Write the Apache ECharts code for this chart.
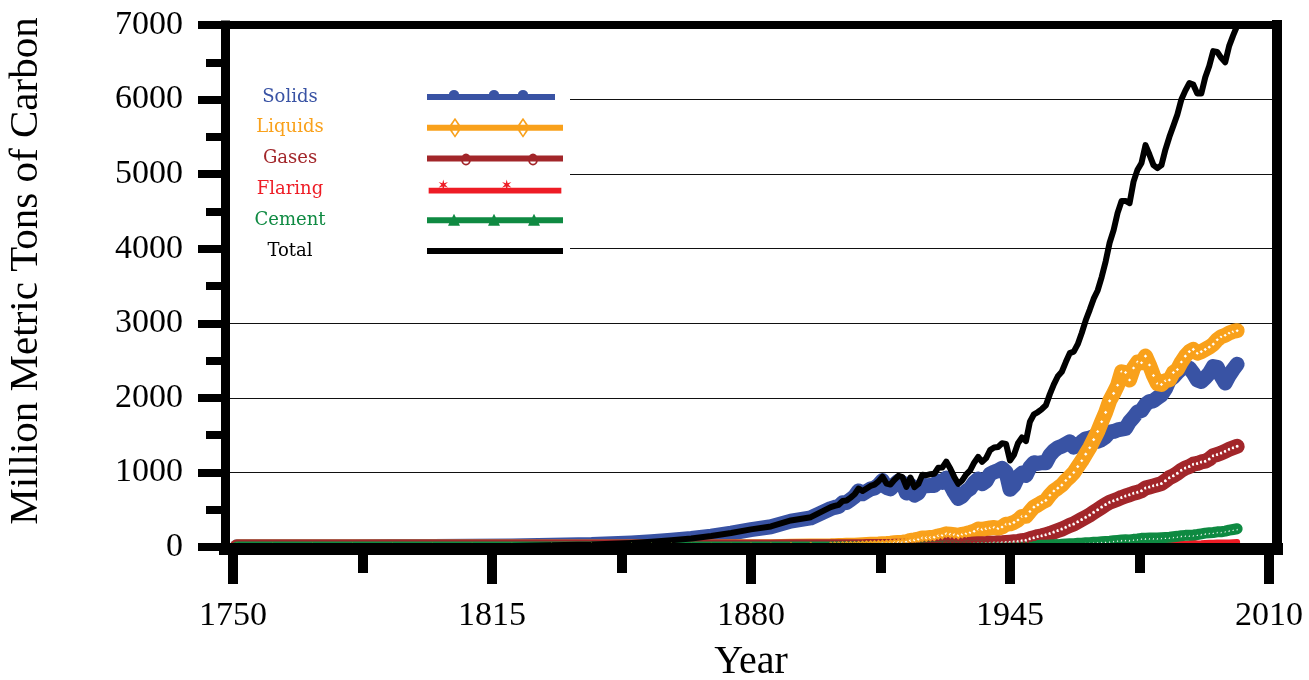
<!DOCTYPE html>
<html>
<head>
<meta charset="utf-8">
<title>Global Carbon Emissions by Fuel Type</title>
<script src="https://cdn.jsdelivr.net/npm/echarts@6/dist/echarts.min.js"></script>
<style>
  html, body { margin: 0; padding: 0; background: #fff; }
  #chart { width: 1309px; height: 680px; }
</style>
</head>
<body>
<div id="chart"></div>
<script>
// Emissions in million metric tons of carbon, one entry per year in `years`.
const years = [
  1751, 1760, 1770, 1780, 1790, 1800, 1810, 1820, 1830, 1840,
  1850, 1855, 1860, 1865, 1870, 1875, 1880, 1885, 1890, 1895,
  1900, 1901, 1902, 1903, 1904, 1905, 1906, 1907, 1908, 1909,
  1910, 1911, 1912, 1913, 1914, 1915, 1916, 1917, 1918, 1919,
  1920, 1921, 1922, 1923, 1924, 1925, 1926, 1927, 1928, 1929,
  1930, 1931, 1932, 1933, 1934, 1935, 1936, 1937, 1938, 1939,
  1940, 1941, 1942, 1943, 1944, 1945, 1946, 1947, 1948, 1949,
  1950, 1951, 1952, 1953, 1954, 1955, 1956, 1957, 1958, 1959,
  1960, 1961, 1962, 1963, 1964, 1965, 1966, 1967, 1968, 1969,
  1970, 1971, 1972, 1973, 1974, 1975, 1976, 1977, 1978, 1979,
  1980, 1981, 1982, 1983, 1984, 1985, 1986, 1987, 1988, 1989,
  1990, 1991, 1992, 1993, 1994, 1995, 1996, 1997, 1998, 1999,
  2000, 2001, 2002
];

const solids = [
  3, 3, 4, 5, 7, 8, 10, 14, 24, 33,
  54, 70, 91, 114, 146, 186, 233, 272, 347, 390,
  515, 531, 544, 593, 597, 635, 677, 751, 714, 746,
  777, 792, 832, 891, 796, 780, 836, 884, 862, 725,
  831, 695, 725, 831, 821, 825, 826, 884, 867, 924,
  838, 734, 652, 682, 748, 784, 864, 911, 848, 885,
  980, 1005, 1024, 1054, 1006, 774, 826, 941, 990, 960,
  1070, 1130, 1120, 1130, 1130, 1230, 1290, 1330, 1350, 1380,
  1410, 1340, 1360, 1410, 1450, 1460, 1480, 1420, 1440, 1480,
  1540, 1550, 1570, 1580, 1590, 1680, 1740, 1810, 1830, 1910,
  1950, 1960, 2000, 2040, 2120, 2240, 2280, 2340, 2390, 2410,
  2400, 2330, 2240, 2220, 2270, 2330, 2420, 2410, 2290, 2200,
  2300, 2380, 2450
];

const liquids = [
  0, 0, 0, 0, 0, 0, 0, 0, 0, 0,
  0, 0, 0, 0, 1, 2, 3, 5, 9, 12,
  16, 18, 19, 20, 23, 24, 25, 28, 31, 33,
  36, 38, 40, 45, 46, 50, 56, 62, 64, 70,
  88, 94, 104, 121, 122, 128, 132, 150, 158, 176,
  170, 164, 156, 170, 180, 195, 212, 240, 236, 246,
  255, 262, 250, 268, 305, 310, 330, 362, 410, 412,
  475, 535, 565, 598, 625, 695, 752, 790, 830, 892,
  940, 998, 1078, 1156, 1245, 1332, 1440, 1548, 1680, 1805,
  1960, 2060, 2170, 2350, 2340, 2240, 2400, 2480, 2470, 2560,
  2440, 2300, 2190, 2180, 2230, 2240, 2340, 2380, 2480, 2560,
  2620, 2650, 2600, 2620, 2650, 2680, 2720, 2780, 2820, 2840,
  2870, 2890, 2900
];

const gases = [
  0, 0, 0, 0, 0, 0, 0, 0, 0, 0,
  0, 0, 0, 0, 0, 0, 0, 1, 3, 3,
  3, 3, 3, 4, 4, 4, 5, 5, 5, 6,
  6, 6, 7, 7, 8, 8, 9, 9, 10, 11,
  13, 14, 16, 18, 20, 22, 25, 28, 30, 34,
  35, 33, 31, 32, 35, 37, 41, 44, 44, 46,
  50, 52, 54, 56, 60, 65, 70, 75, 85, 92,
  110, 125, 140, 150, 165, 180, 200, 220, 240, 265,
  290, 310, 340, 370, 400, 430, 465, 500, 535, 570,
  600, 620, 640, 665, 685, 700, 720, 735, 755, 790,
  805, 820, 835, 850, 890, 930, 955, 990, 1030, 1060,
  1080, 1110, 1120, 1140, 1150, 1180, 1225, 1240, 1260, 1285,
  1310, 1330, 1350
];

const flaring = [
  0, 0, 0, 0, 0, 0, 0, 0, 0, 0,
  0, 0, 0, 0, 0, 0, 0, 0, 0, 0,
  0, 0, 0, 0, 0, 0, 0, 0, 0, 0,
  0, 0, 0, 0, 0, 0, 0, 0, 0, 0,
  0, 0, 0, 0, 0, 0, 0, 0, 0, 0,
  0, 0, 0, 0, 0, 0, 0, 0, 0, 0,
  0, 0, 0, 0, 0, 0, 0, 0, 0, 0,
  23, 24, 26, 27, 27, 31, 32, 35, 35, 36,
  39, 42, 44, 47, 51, 55, 60, 66, 73, 80,
  87, 88, 95, 110, 107, 92, 108, 104, 106, 98,
  86, 65, 64, 58, 51, 49, 46, 44, 50, 44,
  50, 58, 48, 50, 54, 56, 58, 60, 61, 62,
  62, 64, 66
];

const cement = [
  0, 0, 0, 0, 0, 0, 0, 0, 0, 0,
  0, 0, 0, 0, 0, 0, 0, 0, 0, 0,
  0, 0, 0, 0, 0, 0, 0, 0, 0, 0,
  0, 0, 0, 0, 0, 0, 0, 0, 0, 0,
  0, 0, 0, 0, 0, 0, 0, 0, 10, 10,
  10, 9, 8, 8, 9, 10, 11, 12, 12, 12,
  13, 13, 12, 11, 11, 12, 14, 15, 16, 17,
  18, 20, 22, 24, 25, 27, 30, 32, 36, 40,
  43, 45, 49, 51, 57, 58, 63, 65, 70, 74,
  78, 84, 89, 95, 96, 95, 103, 108, 116, 119,
  120, 121, 121, 125, 128, 131, 137, 143, 152, 156,
  157, 161, 167, 176, 186, 190, 195, 203, 205, 213,
  226, 235, 245
];

const total = [
  3, 3, 4, 5, 7, 8, 10, 14, 24, 33,
  54, 70, 91, 114, 147, 188, 236, 275, 356, 400,
  534, 552, 566, 617, 624, 663, 707, 784, 750, 785,
  819, 836, 879, 943, 850, 838, 901, 955, 936, 806,
  932, 803, 845, 970, 963, 975, 983, 1062, 1065, 1145,
  1053, 940, 847, 893, 973, 1027, 1130, 1209, 1142, 1192,
  1299, 1334, 1342, 1391, 1383, 1160, 1238, 1392, 1469, 1419,
  1680, 1780, 1810, 1850, 1900, 2050, 2180, 2290, 2350, 2480,
  2600, 2620, 2720, 2870, 3040, 3180, 3330, 3440, 3620, 3830,
  4080, 4250, 4480, 4640, 4640, 4610, 4900, 5060, 5150, 5390,
  5260, 5120, 5080, 5120, 5330, 5500, 5650, 5800, 6000, 6120,
  6220, 6200, 6080, 6080, 6300, 6450, 6650, 6640, 6560, 6500,
  6720, 6860, 6990
];

const seriesNames = ['Solids', 'Liquids', 'Gases', 'Flaring', 'Cement', 'Total'];
const yearTicks = [1750, 1815, 1880, 1945, 2010];
const yearMinorTicks = [1782.5, 1847.5, 1912.5, 1977.5];

const COLORS = {
  Solids: '#3953a4',
  Liquids: '#f9a11b',
  Gases: '#a2262a',
  Flaring: '#ee1c25',
  Cement: '#0f8a42',
  Total: '#000000'
};

// ---- legend keys: a line with repeated markers, drawn as one path ----
const KW = 136, KH = 20;
const box = `M0 0L0 0M${KW} ${KH}L${KW} ${KH}`;
function bar(x0, x1, y0, y1) {
  return `M${x0} ${y0}L${x1} ${y0}L${x1} ${y1}L${x0} ${y1}Z`;
}
function bump(cx) {
  return `M${cx - 5} 7A5 4 0 0 1 ${cx + 5} 7Z`;
}
function diamondRing(cx) {
  return `M${cx} 0L${cx + 7} 10L${cx} 20L${cx - 7} 10Z` +
         `M${cx} 2.6L${cx - 4.6} 10L${cx} 17.4L${cx + 4.6} 10Z`;
}
function circleRing(cx) {
  return `M${cx - 5} 11A5 6 0 1 1 ${cx + 5} 11A5 6 0 1 1 ${cx - 5} 11Z` +
         `M${cx - 3.2} 11A3.2 4.2 0 1 0 ${cx + 3.2} 11A3.2 4.2 0 1 0 ${cx - 3.2} 11Z`;
}
function star(cx, cy, R, r) {
  let d = '';
  for (let k = 0; k < 12; k++) {
    const a = (-90 + k * 30) * Math.PI / 180;
    const rad = k % 2 === 0 ? R : r;
    const x = (cx + rad * Math.cos(a)).toFixed(2);
    const y = (cy + rad * Math.sin(a)).toFixed(2);
    d += (k === 0 ? 'M' : 'L') + x + ' ' + y;
  }
  return d + 'Z';
}
function triangle(cx) {
  return `M${cx} 3.5L${cx + 6} 15.5L${cx - 6} 15.5Z`;
}
const legendIcons = {
  Solids: box + bar(0, 128, 7, 13) + bump(27) + bump(67) + bump(96),
  Liquids: box + bar(0, KW, 7, 13) + diamondRing(28) + diamondRing(96),
  Gases: box + bar(0, KW, 7, 13) + circleRing(39) + circleRing(106),
  Flaring: box + bar(0, KW, 8, 14) + star(15, 5, 5.5, 1.9) + star(80, 5, 5.5, 1.9),
  Cement: box + bar(0, KW, 7, 13) + triangle(27) + triangle(67) + triangle(107),
  Total: box + bar(0, KW, 7, 13)
};

const SERIF = '"Liberation Serif", "DejaVu Serif", serif';
const SLAB = '"DejaVu Serif", "Liberation Serif", serif';

function pairs(values) {
  return years.map((y, i) => [y, values[i]]);
}

const seriesStyle = {
  Solids:  { width: 15, symbol: 'none' },
  Liquids: { width: 15, symbol: 'emptyDiamond', size: 6 },
  Gases:   { width: 15, symbol: 'emptyCircle', size: 5 },
  Flaring: { width: 6,  symbol: 'none' },
  Cement:  { width: 11, symbol: 'emptyTriangle', size: 5 },
  Total:   { width: 6,  symbol: 'none' }
};
const seriesValues = { Solids: solids, Liquids: liquids, Gases: gases, Flaring: flaring, Cement: cement, Total: total };

const chart = echarts.init(document.getElementById('chart'), null, { renderer: 'canvas' });

const option = {
  animation: false,
  backgroundColor: '#fff',
  grid: { left: 225, right: 32, top: 25, bottom: 133, outerBoundsMode: 'none', containLabel: false },
  legend: {
    orient: 'vertical',
    left: 230,
    top: 62,
    padding: [25, 7, 10, 2],
    itemGap: 10.8,
    itemWidth: KW,
    itemHeight: KH,
    align: 'right',
    selectedMode: false,
    backgroundColor: '#fff',
    itemStyle: { borderWidth: 0 },
    formatter: name => `{t|${name}}`,
    textStyle: {
      fontFamily: SLAB,
      fontSize: 18,
      rich: {
        t: { width: 116, align: 'center', padding: [0, 74, 0, 0], lineHeight: 20, fontFamily: SLAB, fontSize: 18 }
      }
    },
    data: seriesNames.map(n => ({
      name: n,
      icon: 'path://' + legendIcons[n],
      textStyle: { color: COLORS[n] }
    }))
  },
  xAxis: [
    {
      type: 'value', min: 1748, max: 2012, position: 'bottom', offset: 2, z: 10,
      axisLine: { show: true, onZero: false, lineStyle: { color: '#000', width: 12, cap: 'square' } },
      axisTick: { show: true, customValues: yearTicks, length: 35, lineStyle: { color: '#000', width: 10 } },
      axisLabel: {
        show: true, customValues: yearTicks, margin: 50, color: '#000',
        fontFamily: SERIF, fontSize: 34, formatter: v => String(v)
      },
      splitLine: { show: false },
      name: 'Year', nameLocation: 'middle', nameGap: 93,
      nameTextStyle: { color: '#000', fontFamily: SERIF, fontSize: 40 }
    },
    {
      type: 'value', min: 1748, max: 2012, position: 'bottom', offset: 2, z: 10,
      axisLine: { show: false },
      axisTick: { show: true, customValues: yearMinorTicks, length: 26, lineStyle: { color: '#000', width: 10 } },
      axisLabel: { show: false },
      splitLine: { show: false }
    },
    {
      type: 'value', min: 1748, max: 2012, position: 'top', z: 10,
      axisLine: { show: true, onZero: false, lineStyle: { color: '#000', width: 8, cap: 'square' } },
      axisTick: { show: false },
      axisLabel: { show: false },
      splitLine: { show: false }
    }
  ],
  yAxis: [
    {
      type: 'value', min: 0, max: 7000, interval: 1000, position: 'left',
      axisLine: { show: true, onZero: false, lineStyle: { color: '#000', width: 9, cap: 'square' } },
      axisTick: { show: true, length: 27, lineStyle: { color: '#000', width: 8 } },
      minorTick: { show: true, splitNumber: 2, length: 19, lineStyle: { color: '#000', width: 8 } },
      axisLabel: {
        margin: 42, color: '#000', fontFamily: SERIF, fontSize: 34,
        formatter: v => String(v)
      },
      splitLine: { show: true, lineStyle: { color: '#111', width: 1 } },
      name: 'Million Metric Tons of Carbon', nameLocation: 'middle', nameGap: 178,
      nameTextStyle: { color: '#000', fontFamily: SERIF, fontSize: 41, padding: [0, 0, 0, 30] }
    },
    {
      type: 'value', min: 0, max: 7000, position: 'right', z: 10,
      axisLine: { show: true, onZero: false, lineStyle: { color: '#000', width: 10, cap: 'square' } },
      axisTick: { show: false },
      axisLabel: { show: false },
      splitLine: { show: false }
    }
  ],
  series: seriesNames.map(n => {
    const st = seriesStyle[n];
    return {
      name: n,
      type: 'line',
      xAxisIndex: 0,
      yAxisIndex: 0,
      data: pairs(seriesValues[n]),
      symbol: st.symbol,
      symbolSize: st.size || 0,
      showSymbol: st.symbol !== 'none',
      color: COLORS[n],
      itemStyle: { color: COLORS[n], borderWidth: 1 },
      lineStyle: { color: COLORS[n], width: st.width, join: 'round', cap: 'round' },
      emphasis: { disabled: true }
    };
  })
};

chart.setOption(option);
</script>
</body>
</html>
